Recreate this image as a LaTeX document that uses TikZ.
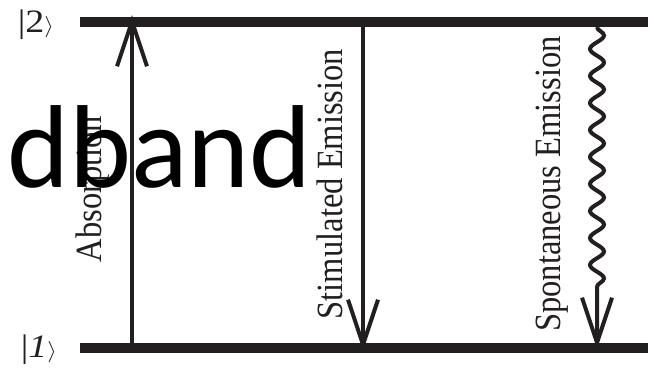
\documentclass[tikz,border=0pt]{standalone}
\usepackage{fontspec}
\setmainfont{Liberation Serif}
\newfontfamily\bigsans{Carlito}
\usetikzlibrary{arrows.meta,decorations.pathmorphing}
\definecolor{ink}{RGB}{35,31,32}
\tikzset{
  level/.style={line width=10pt, draw=ink},
  trans/.style={line width=4pt, draw=ink, -{Straight Barb[length=45pt,width=30pt,line width=4pt]}},
  lab/.style={inner sep=0pt, text=ink, font=\fontsize{37}{40}\selectfont},
  ket/.style={inner sep=0pt, text=ink, font=\fontsize{38}{40}\selectfont},
}
\begin{document}
\begin{tikzpicture}[x=1pt,y=-1pt]
\useasboundingbox (0,0) rectangle (654,368);
% levels
\coordinate (L2w) at (80,22);  \coordinate (L2e) at (648,22);
\coordinate (L1w) at (80,348); \coordinate (L1e) at (648,348);
\draw[level] (L2w) -- (L2e);
\draw[level] (L1w) -- (L1e);
\node[ket] (k2) at (36,25) {\scalebox{1}[0.86]{|2$\rangle$}};
\node[ket] (k1) at (39,350) {\scalebox{1}[0.86]{|\textit{1}$\rangle$}};
% absorption
\coordinate (a1) at (132,348); \coordinate (a2) at (132,15);
\draw[trans] (a1) -- (a2);
\node[lab, rotate=90] (abs) at (93,189) {\scalebox{0.88}[1]{Absorption}};
% stimulated
\coordinate (s2) at (363,22); \coordinate (s1) at (363,351);
\draw[trans] (s2) -- (s1);
\node[lab, rotate=90] (stim) at (330,184) {\scalebox{0.88}[1]{Stimulated Emission}};
% spontaneous
\coordinate (p2) at (597,27); \coordinate (p1) at (597,349);
\draw[trans, decorate, decoration={snake, amplitude=7pt, segment length=27pt, post length=50pt}] (p2) -- (p1);
\node[lab, rotate=90] (spon) at (552,184) {\scalebox{0.88}[1]{Spontaneous Emission}};
% overlay text
\node[inner sep=0pt, anchor=base east, font=\bigsans\fontsize{118}{120}\selectfont] (bb) at (312,187) {dband};
\end{tikzpicture}
\end{document}
